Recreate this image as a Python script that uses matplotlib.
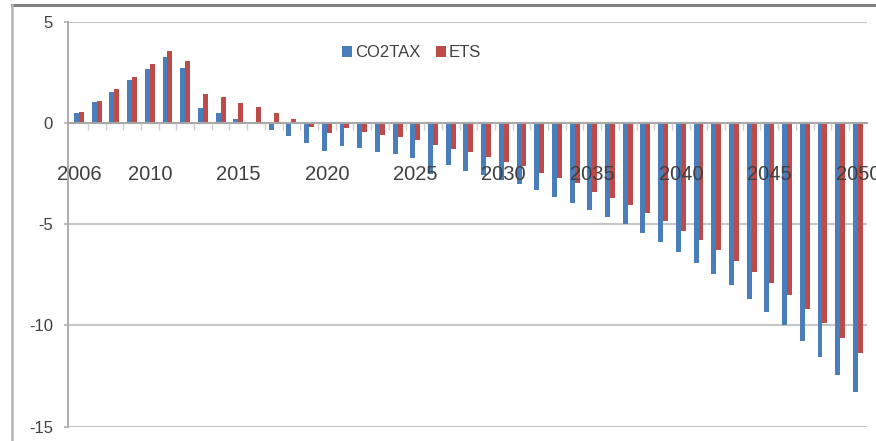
import matplotlib
matplotlib.use("Agg")
import matplotlib.pyplot as plt
import numpy as np
from matplotlib.lines import Line2D

years = list(range(2006, 2051))
co2tax = [0.48, 1.04, 1.52, 2.10, 2.67, 3.27, 2.72, 0.76, 0.51, 0.21,
          -0.05, -0.35, -0.64, -1.00, -1.37, -1.13, -1.26, -1.45, -1.55, -1.75,
          -2.50, -2.07, -2.35, -2.57, -2.80, -3.00, -3.31, -3.64, -3.93, -4.30,
          -4.66, -4.99, -5.45, -5.86, -6.35, -6.90, -7.46, -8.00, -8.69, -9.35,
          -9.98, -10.75, -11.57, -12.44, -13.27]
ets = [0.54, 1.10, 1.68, 2.29, 2.90, 3.57, 3.08, 1.43, 1.27, 1.00,
       0.77, 0.48, 0.18, -0.22, -0.52, -0.27, -0.43, -0.60, -0.68, -0.84,
       -1.09, -1.30, -1.44, -1.66, -1.95, -2.15, -2.45, -2.73, -2.98, -3.39,
       -3.69, -4.05, -4.46, -4.82, -5.32, -5.78, -6.27, -6.81, -7.34, -7.89,
       -8.49, -9.20, -9.89, -10.63, -11.37]
label_years = [2006, 2010, 2015, 2020, 2025, 2030, 2035, 2040, 2045, 2050]
y_ticks = [5, 0, -5, -10, -15]

plt.rcParams['font.family'] = ['Liberation Sans', 'DejaVu Sans']
text_col = '#404040'
blue = '#4a7ebb'
red = '#be4b48'

fig = plt.figure(figsize=(8.76, 4.41), dpi=100)
ax = fig.add_axes([0.078, 0.0324, 0.9114, 0.9184])

x = np.arange(len(years))
w = 0.28
ax.bar(x - w / 2, co2tax, width=w, color=blue, label='CO2TAX', zorder=2)
ax.bar(x + w / 2, ets, width=w, color=red, label='ETS', zorder=2)

ax.set_xlim(-0.6, 44.5)
ax.set_ylim(-15, 5)

# gridlines behind the bars, axis (labels) on top of them
ax.set_axisbelow(False)
for v in y_ticks:
    if v != 0:
        ax.axhline(v, color='#c6c6c6', linewidth=1.5, zorder=0)

for s in ['top', 'right']:
    ax.spines[s].set_visible(False)
ax.spines['bottom'].set_position(('data', 0))
ax.spines['bottom'].set_color('#a6a6a6')
ax.spines['bottom'].set_linewidth(1.5)
ax.spines['left'].set_color('#b0b0b0')
ax.spines['left'].set_linewidth(1.5)

ax.set_yticks(y_ticks)
ax.set_yticklabels([str(v) for v in y_ticks], fontsize=12, color=text_col)
ax.tick_params(axis='y', length=3, width=1.2, color='#b0b0b0', pad=8)

ax.set_xticks([years.index(y) for y in label_years])
ax.set_xticklabels([str(y) for y in label_years], fontsize=14.5, color=text_col)
ax.set_xticks(x[:-1] + 0.5, minor=True)
ax.tick_params(axis='x', which='major', length=0, pad=30)
ax.tick_params(axis='x', which='minor', length=5, width=1.0, color='#cccccc')

leg = ax.legend(loc='center', bbox_to_anchor=(0.43, 0.923), ncol=2,
                frameon=False, fontsize=12, handlelength=0.6, handleheight=0.6,
                handletextpad=0.2, columnspacing=0.9, borderpad=0)
for t in leg.get_texts():
    t.set_color(text_col)

# outer chart frame
fig.add_artist(Line2D([12 / 876, 1], [1 - 4.5 / 441, 1 - 4.5 / 441],
                      transform=fig.transFigure, color='#808080', lw=2.2))
fig.add_artist(Line2D([12 / 876, 12 / 876], [0, 1 - 4.5 / 441],
                      transform=fig.transFigure, color='#b4b4b4', lw=1.8))

fig.savefig('out.png', dpi=100)
